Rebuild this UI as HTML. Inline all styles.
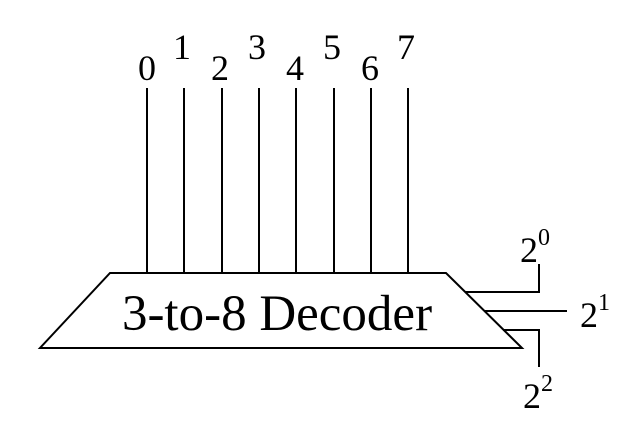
<!DOCTYPE html>
<html><head><style>body{margin:0;background:#fff}</style></head><body>
<svg width="640" height="442" viewBox="0 0 640 442" xmlns="http://www.w3.org/2000/svg" font-family="Liberation Serif, serif" fill="#000">
<g stroke="#000" stroke-width="2" fill="none">
<polygon points="110,273 446,273 522,348 40,348"/>
<line x1="147" y1="88" x2="147" y2="273"/>
<line x1="184" y1="88" x2="184" y2="273"/>
<line x1="222" y1="88" x2="222" y2="273"/>
<line x1="259" y1="88" x2="259" y2="273"/>
<line x1="296" y1="88" x2="296" y2="273"/>
<line x1="334" y1="88" x2="334" y2="273"/>
<line x1="371" y1="88" x2="371" y2="273"/>
<line x1="408" y1="88" x2="408" y2="273"/>
<polyline points="465,292 539,292 539,264"/>
<line x1="484" y1="311" x2="567" y2="311"/>
<polyline points="503,330 539,330 539,367"/>
</g>
<g font-size="36" text-anchor="middle">
<text x="147" y="80">0</text>
<text x="182" y="59">1</text>
<text x="220" y="80">2</text>
<text x="257" y="59">3</text>
<text x="295" y="80">4</text>
<text x="332" y="59">5</text>
<text x="370" y="80">6</text>
<text x="406" y="59">7</text>
</g>
<text x="277" y="330" font-size="51" text-anchor="middle">3-to-8 Decoder</text>
<text x="520" y="262" font-size="36">2<tspan font-size="24" dy="-17">0</tspan></text>
<text x="580" y="327" font-size="36">2<tspan font-size="24" dy="-17">1</tspan></text>
<text x="523" y="408" font-size="36">2<tspan font-size="24" dy="-17">2</tspan></text>
</svg>
</body></html>
